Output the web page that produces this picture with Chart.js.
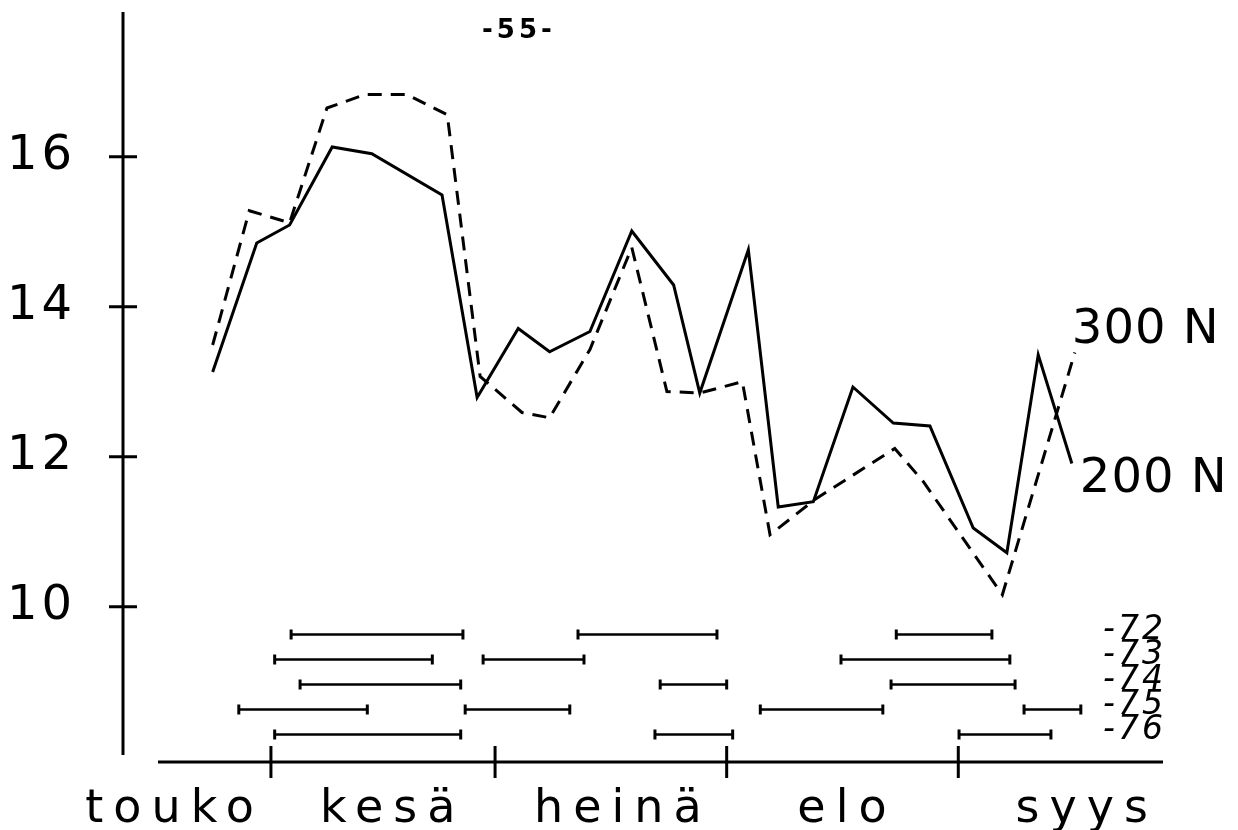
<!DOCTYPE html>
<html>
<head>
<meta charset="utf-8">
<script src="https://cdn.jsdelivr.net/npm/chart.js@4"></script>
<style>
  html, body { margin: 0; padding: 0; background: #fff; }
  #wrap { width: 1238px; height: 830px; position: relative; }
</style>
</head>
<body>
<div id="wrap"><canvas id="c"></canvas></div>
<script>
// days counted from 1 June (kesäkuu)
const monthNames = ['touko', 'kesä', 'heinä', 'elo', 'syys'];
const monthLabelDays = [-12.9, 16.3, 47.1, 77.1, 109.2];
const monthStartDays = [0, 30, 61, 92];
const yTicks = [10, 12, 14, 16];

// 200 N (solid)
const days200 = [-7.8, -1.9, 2.5, 8.2, 13.5, 22.9, 27.6, 33.1, 37.3, 42.7, 48.3, 53.9, 57.4, 63.9, 67.9, 72.6, 77.9, 83.3, 88.2, 94.0, 98.5, 102.7, 107.2];
const temp200 = [13.13, 14.85, 15.09, 16.13, 16.04, 15.49, 12.79, 13.71, 13.40, 13.67, 15.01, 14.29, 12.85, 14.76, 11.33, 11.40, 12.93, 12.45, 12.41, 11.05, 10.72, 13.36, 11.91];

// 300 N (dashed)
const days300 = [-7.8, -2.9, 2.5, 7.5, 12.6, 18.2, 23.6, 28.0, 33.6, 37.3, 42.7, 48.3, 53.0, 57.4, 63.1, 66.8, 72.8, 83.5, 87.3, 97.9, 107.6];
const temp300 = [13.49, 15.28, 15.12, 16.65, 16.83, 16.83, 16.56, 13.07, 12.59, 12.52, 13.43, 14.79, 12.87, 12.85, 13.0, 10.96, 11.43, 12.11, 11.67, 10.16, 13.39];

// periods per year (start day, end day)
const years = ['-72', '-73', '-74', '-75', '-76'];
const ranges72 = [[2.7, 25.7], [41.1, 59.7], [83.7, 96.5]];
const ranges73 = [[0.5, 21.6], [28.4, 41.9], [76.3, 98.9]];
const ranges74 = [[3.9, 25.4], [52.1, 61.0], [83.0, 99.6]];
const ranges75 = [[-4.3, 12.9], [26.0, 40.0], [65.5, 81.9], [100.8, 108.4]];
const ranges76 = [[0.5, 25.4], [51.4, 61.8], [92.1, 104.4]];
const yearRanges = [ranges72, ranges73, ranges74, ranges75, ranges76];

const FONT = '"DejaVu Sans", sans-serif';

function toPoints(xs, ys){ return xs.map((x, i) => ({ x, y: ys[i] })); }

function rangeData(ranges, row){
  const pts = [];
  ranges.forEach(r => {
    pts.push({ x: r[0], y: row }, { x: r[1], y: row }, { x: r[1], y: null });
  });
  return pts;
}

const datasets = [
  { label: '200 N', data: toPoints(days200, temp200), borderColor: '#000', borderWidth: 3,
    pointRadius: 0, tension: 0, yAxisID: 'y' },
  { label: '300 N', data: toPoints(days300, temp300), borderColor: '#000', borderWidth: 3,
    borderDash: [14, 9], pointRadius: 0, tension: 0, yAxisID: 'y' }
];
yearRanges.forEach((r, i) => {
  datasets.push({
    label: years[i], data: rangeData(r, i), yAxisID: 'y2',
    borderColor: '#000', borderWidth: 2.5, spanGaps: false,
    pointStyle: 'line', rotation: 90, pointRadius: 5, pointBorderWidth: 3,
    pointBorderColor: '#000', pointHoverRadius: 5
  });
});

function noPad(s){ s.paddingTop = 0; s.paddingBottom = 0; s.paddingLeft = 0; s.paddingRight = 0; }

const decor = {
  id: 'decor',
  beforeDraw(chart){
    const ctx = chart.ctx;
    ctx.fillStyle = '#fff';
    ctx.fillRect(0, 0, chart.width, chart.height);
    ctx.letterSpacing = '10px'; // month names are widely spaced
  },
  afterDatasetsDraw(chart){
    chart.ctx.letterSpacing = '4px';
  },
  afterDraw(chart){
    const ctx = chart.ctx;
    const a = chart.chartArea;
    const xs = chart.scales.x, ys = chart.scales.y, y2 = chart.scales.y2;
    ctx.save();
    ctx.strokeStyle = '#000';
    ctx.fillStyle = '#000';
    ctx.lineWidth = 3;
    // axis lines
    ctx.beginPath();
    ctx.moveTo(a.left, a.top); ctx.lineTo(a.left, a.bottom - 7);
    ctx.moveTo(a.left + 35, a.bottom); ctx.lineTo(a.right, a.bottom);
    ctx.stroke();
    // y tick marks crossing the axis
    ctx.beginPath();
    yTicks.forEach(v => {
      const py = ys.getPixelForValue(v);
      ctx.moveTo(a.left - 14, py); ctx.lineTo(a.left + 14, py);
    });
    // month boundary ticks
    monthStartDays.forEach(d => {
      const px = xs.getPixelForValue(d);
      ctx.moveTo(px, a.bottom - 16); ctx.lineTo(px, a.bottom + 16);
    });
    ctx.stroke();

    // year labels
    ctx.font = 'italic 33px ' + FONT;
    ctx.textAlign = 'left';
    ctx.textBaseline = 'middle';
    ctx.letterSpacing = '3px';
    years.forEach((t, i) => ctx.fillText(t, a.right - 60, y2.getPixelForValue(i) - 4));

    // series labels at line ends
    ctx.font = '48px ' + FONT;
    ctx.letterSpacing = '1px';
    const m300 = chart.getDatasetMeta(1).data, m200 = chart.getDatasetMeta(0).data;
    const e300 = m300[m300.length - 1], e200 = m200[m200.length - 1];
    ctx.fillText('300 N', e300.x - 3, e300.y - 22);
    ctx.fillText('200 N', e200.x + 8, e200.y + 16);

    // page number
    ctx.font = 'bold 26px ' + FONT;
    ctx.textAlign = 'left';
    ctx.letterSpacing = '4px';
    ctx.fillText('-55-', 482, 31);
    ctx.restore();
  }
};

new Chart(document.getElementById('c'), {
  type: 'line',
  data: { datasets },
  options: {
    responsive: true,
    maintainAspectRatio: false,
    animation: false,
    layout: { padding: { top: 12, right: 75, left: 0, bottom: 0 } },
    plugins: { legend: { display: false }, tooltip: { enabled: false }, title: { display: false } },
    scales: {
      x: {
        type: 'linear', min: -19.8, max: 119.4,
        grid: { display: false, drawTicks: false }, border: { display: false },
        afterBuildTicks: s => { s.ticks = monthLabelDays.map(v => ({ value: v })); },
        afterFit: s => { s.height = 68; noPad(s); },
        ticks: {
          color: '#000', font: { family: FONT, size: 46 }, padding: 20, maxRotation: 0, autoSkip: false,
          z: 0, callback: (v, i) => monthNames[i]
        }
      },
      y: {
        type: 'linear', min: 7.93, max: 17.93,
        grid: { display: false, drawTicks: false }, border: { display: false },
        afterBuildTicks: s => { s.ticks = yTicks.map(v => ({ value: v })); },
        afterFit: s => { s.width = 123; noPad(s); },
        ticks: { color: '#000', font: { family: FONT, size: 48 }, padding: 47, z: 1 }
      },
      y2: {
        type: 'linear', display: false, reverse: true, min: -24.9, max: 5.1
      }
    }
  },
  plugins: [decor]
});
</script>
</body>
</html>
